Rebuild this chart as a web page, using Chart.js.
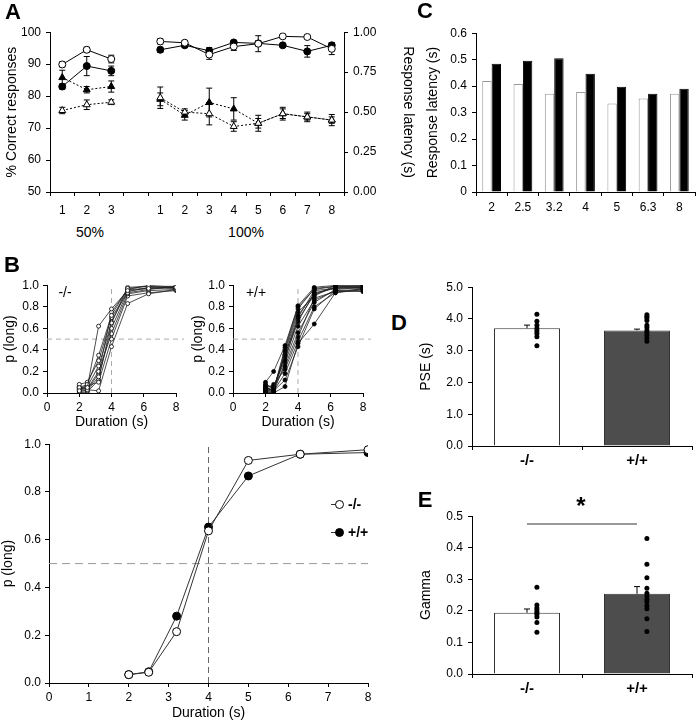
<!DOCTYPE html>
<html>
<head>
<meta charset="utf-8">
<script src="https://cdn.jsdelivr.net/npm/chart.js@4.4.1/dist/chart.umd.min.js"></script>
<style>
  body { margin: 0; width: 696px; height: 720px; position: relative; overflow: hidden; background: #fff;
         font-family: 'Liberation Sans', Arial, sans-serif; color: #000; }
  canvas { position: absolute; }
</style>
</head>
<body>
<script>
// ---- Panel A: % correct (circles, left axis) and response latency (triangles, right axis)
const aCats = ['1', '2', '3', '', '1', '2', '3', '4', '5', '6', '7', '8'];
const aCorrectKO = [89.9, 94.5, 91.6, null, 97.1, 96.7, 93.0, 95.5, 96.4, 98.7, 98.5, 94.8];
const aCorrectKOErr = [0.8, 0.8, 1.2, null, 0.8, 0.6, 1.5, 1.2, 2.5, 0.5, 0.5, 1.8];
const aCorrectWT = [83.0, 89.4, 87.9, null, 94.5, 95.9, 94.2, 96.8, 96.5, 95.9, 94.0, 95.9];
const aCorrectWTErr = [0.8, 3.0, 1.5, null, 0.8, 0.6, 1.0, 0.6, 0.8, 0.6, 1.8, 0.8];
const aLatencyKO = [0.51, 0.546, 0.562, null, 0.59, 0.50, 0.49, 0.41, 0.43, 0.49, 0.47, 0.45];
const aLatencyKOErr = [0.02, 0.03, 0.015, null, 0.067, 0.02, 0.07, 0.03, 0.05, 0.04, 0.03, 0.035];
const aLatencyWT = [0.716, 0.64, 0.66, null, 0.58, 0.48, 0.56, 0.52, 0.43, 0.49, 0.47, 0.45];
const aLatencyWTErr = [0.046, 0.02, 0.035, null, 0.04, 0.03, 0.09, 0.07, 0.03, 0.03, 0.02, 0.02];

// ---- Panel C: response latency per duration
const cDurations = ['2', '2.5', '3.2', '4', '5', '6.3', '8'];
const cLatencyKO = [0.419, 0.408, 0.371, 0.378, 0.334, 0.353, 0.371];
const cLatencyWT = [0.485, 0.496, 0.505, 0.447, 0.398, 0.371, 0.39];

// ---- Panel B: p(long) per duration
const bDurations = [2, 2.5, 3.2, 4, 5, 6.3, 8];
const bKOAnimals = [
  [0.02, 0.05, 0.62, 0.78, 0.95, 0.97, 0.98],
  [0.05, 0.08, 0.35, 0.72, 0.97, 0.99, 0.97],
  [0.01, 0.03, 0.02, 0.43, 0.83, 0.92, 0.96],
  [0.08, 0.10, 0.30, 0.70, 0.93, 0.96, 0.99],
  [0.03, 0.06, 0.25, 0.65, 0.96, 1.00, 0.98],
  [0.02, 0.02, 0.15, 0.60, 0.94, 0.98, 0.97],
  [0.06, 0.04, 0.20, 0.55, 0.92, 0.95, 0.96],
  [0.04, 0.07, 0.10, 0.50, 0.90, 0.93, 0.95],
  [0.00, 0.01, 0.12, 0.66, 0.98, 0.99, 0.99],
  [0.05, 0.03, 0.18, 0.75, 0.96, 0.97, 0.98]
];
const bWTAnimals = [
  [0.10, 0.20, 0.44, 0.81, 0.98, 1.00, 0.99],
  [0.05, 0.02, 0.40, 0.78, 0.97, 0.99, 1.00],
  [0.02, 0.00, 0.06, 0.46, 0.64, 0.93, 0.96],
  [0.08, 0.05, 0.35, 0.72, 0.92, 0.98, 0.97],
  [0.00, 0.02, 0.12, 0.43, 0.78, 0.95, 0.94],
  [0.03, 0.06, 0.30, 0.70, 0.95, 0.97, 0.99],
  [0.01, 0.04, 0.25, 0.56, 0.84, 0.96, 0.98],
  [0.06, 0.01, 0.38, 0.75, 0.90, 1.00, 0.97],
  [0.04, 0.08, 0.22, 0.52, 0.88, 0.94, 0.95],
  [0.02, 0.03, 0.42, 0.80, 0.96, 0.99, 0.99],
  [0.07, 0.05, 0.33, 0.66, 0.93, 0.97, 0.98],
  [0.00, 0.01, 0.28, 0.62, 0.86, 0.95, 0.96],
  [0.03, 0.04, 0.36, 0.68, 0.91, 0.98, 1.00],
  [0.05, 0.02, 0.18, 0.48, 0.80, 0.93, 0.97]
];
const bMeanKO = [0.035, 0.045, 0.215, 0.637, 0.932, 0.958, 0.977];
const bMeanWT = [0.035, 0.047, 0.28, 0.653, 0.867, 0.958, 0.965];

// ---- Panels D and E
const groups = ['-/-', '+/+'];
const pseMean = [3.706, 3.64];
const pseErr = [0.1, 0.04];
const pseKO = [4.15, 3.93, 3.8, 3.7, 3.62, 3.54, 3.44, 3.16];
const pseWT = [4.13, 4.08, 4.03, 3.95, 3.8, 3.73, 3.64, 3.57, 3.49, 3.39, 3.3];
const gammaMean = [0.194, 0.254];
const gammaErr = [0.012, 0.023];
const gammaKO = [0.2745, 0.219, 0.209, 0.2025, 0.196, 0.189, 0.181, 0.163, 0.1326];
const gammaWT = [0.429, 0.348, 0.305, 0.272, 0.256, 0.246, 0.236, 0.229, 0.216, 0.207, 0.175, 0.135];
const gammaSig = 0.475;

Chart.defaults.font.family = "'Liberation Sans', Arial, sans-serif";
Chart.defaults.color = '#000';

// error bars drawn from the dataset's own scale
const errorBars = {
  id: 'errorBars',
  beforeDatasetsDraw(chart) {
    const ctx = chart.ctx;
    chart.data.datasets.forEach((ds, i) => {
      if (!ds.errors) return;
      const meta = chart.getDatasetMeta(i);
      const ys = chart.scales[meta.yAxisID];
      meta.data.forEach((el, j) => {
        const v = ds.data[j], e = ds.errors[j];
        if (v == null || !e) return;
        const top = ys.getPixelForValue(v + e);
        const bot = ds.upOnly ? ys.getPixelForValue(v) : ys.getPixelForValue(v - e);
        ctx.save();
        ctx.strokeStyle = '#000';
        ctx.lineWidth = 1;
        ctx.beginPath();
        ctx.moveTo(el.x, top); ctx.lineTo(el.x, bot);
        ctx.moveTo(el.x - 3, top); ctx.lineTo(el.x + 3, top);
        if (!ds.upOnly) { ctx.moveTo(el.x - 3, bot); ctx.lineTo(el.x + 3, bot); }
        ctx.stroke();
        ctx.restore();
      });
    });
  }
};

function makeCanvas(x, y, w, h) {
  const c = document.createElement('canvas');
  c.width = w; c.height = h;
  c.style.left = x + 'px';
  c.style.top = y + 'px';
  document.body.appendChild(c);
  return c;
}

function text(t, x, y, size, weight) {
  const d = document.createElement('div');
  d.textContent = t;
  d.style.cssText = 'position:absolute;left:' + x + 'px;top:' + y + 'px;transform:translate(-50%,-50%);' +
    'font-size:' + size + 'px;font-weight:' + (weight || 'normal') + ';white-space:nowrap;line-height:1';
  document.body.appendChild(d);
}

function axis(o) {
  const a = {
    type: o.type || 'linear',
    position: o.pos,
    offset: !!o.offset,
    border: { color: '#000', width: 1 },
    grid: { drawOnChartArea: false, color: '#000', tickLength: 4, offset: !!o.offset },
    ticks: { color: '#000', font: { size: o.font || 12, weight: o.weight || 'normal' },
             padding: o.pad == null ? 3 : o.pad, maxRotation: 0, autoSkip: false },
    afterFit(s) { if (s.isHorizontal()) s.height = o.size; else s.width = o.size; }
  };
  if (o.min != null) a.min = o.min;
  if (o.max != null) a.max = o.max;
  if (o.step) a.ticks.stepSize = o.step;
  if (o.fmt != null) a.ticks.callback = v => Number(v).toFixed(o.fmt);
  if (o.title) a.title = { display: true, text: o.title, color: '#000', font: { size: 14 }, padding: { top: 4, bottom: 4 } };
  return a;
}

function options(pad, scales) {
  return {
    responsive: false, animation: false, devicePixelRatio: 1,
    layout: { padding: pad },
    plugins: { legend: { display: false }, tooltip: { enabled: false } },
    scales
  };
}

// ---------- Panel A
new Chart(makeCanvas(0, 20, 420, 202), {
  type: 'line',
  data: {
    labels: aCats,
    datasets: [
      { data: aCorrectKO, errors: aCorrectKOErr, yAxisID: 'y', borderColor: '#000', borderWidth: 1,
        pointRadius: 3.5, pointBackgroundColor: '#fff', pointBorderColor: '#000', pointBorderWidth: 1 },
      { data: aCorrectWT, errors: aCorrectWTErr, yAxisID: 'y', borderColor: '#000', borderWidth: 1,
        pointRadius: 3.5, pointBackgroundColor: '#000', pointBorderColor: '#000' },
      { data: aLatencyKO, errors: aLatencyKOErr, yAxisID: 'y2', borderColor: '#000', borderWidth: 1, borderDash: [2, 2],
        pointStyle: 'triangle', pointRadius: 4, pointBackgroundColor: '#fff', pointBorderColor: '#000', pointBorderWidth: 1 },
      { data: aLatencyWT, errors: aLatencyWTErr, yAxisID: 'y2', borderColor: '#000', borderWidth: 1, borderDash: [2, 2],
        pointStyle: 'triangle', pointRadius: 4, pointBackgroundColor: '#000', pointBorderColor: '#000' }
    ]
  },
  options: options({ left: 0, top: 10, right: 0, bottom: 0 }, {
    x: axis({ type: 'category', pos: 'bottom', offset: true, size: 30, pad: 7 }),
    y: axis({ pos: 'left', min: 50, max: 100, step: 10, size: 50, pad: 5, title: '% Correct responses' }),
    y2: axis({ pos: 'right', min: 0, max: 1, step: 0.25, fmt: 2, size: 76, pad: 5, title: 'Response latency (s)' })
  }),
  plugins: [errorBars]
});
text('50%', 90, 232, 14);
text('100%', 246, 232, 14);
text('A', 13, 12, 22, 'bold');

// ---------- Panel C
new Chart(makeCanvas(421, 21, 275, 196), {
  type: 'bar',
  data: {
    labels: cDurations,
    datasets: [
      { data: cLatencyKO, backgroundColor: '#fff', borderColor: '#999', borderWidth: 1,
        categoryPercentage: 0.6, barPercentage: 1 },
      { data: cLatencyWT, backgroundColor: '#000', borderColor: '#000', borderWidth: 1,
        categoryPercentage: 0.6, barPercentage: 1 }
    ]
  },
  options: options({ left: 0, top: 10, right: 1, bottom: 0 }, {
    x: axis({ type: 'category', pos: 'bottom', offset: true, size: 25, pad: 4 }),
    y: axis({ pos: 'left', min: 0, max: 0.6, step: 0.1, size: 55, pad: 5, title: 'Response latency (s)' })
  })
});
text('C', 425, 11, 22, 'bold');

// ---------- Panel B, individual animals
function refLines(col, xEnd) {
  return [
    { data: [{ x: 0, y: 0.5 }, { x: xEnd, y: 0.5 }], borderColor: col, borderWidth: 1, borderDash: [5, 4],
      pointRadius: 0, order: 10, clip: false },
    { data: [{ x: 4, y: 0 }, { x: 4, y: 1 }], borderColor: col, borderWidth: 1, borderDash: [5, 4],
      pointRadius: 0, order: 10 }
  ];
}

function animalsChart(x, yW, w, animals, filled) {
  const sets = animals.map(vals => ({
    data: vals.map((v, i) => ({ x: bDurations[i], y: v })),
    borderColor: '#222', borderWidth: 0.8,
    pointRadius: 2, pointBorderWidth: 0.8, pointBorderColor: '#000',
    pointBackgroundColor: filled ? '#000' : '#fff'
  }));
  new Chart(makeCanvas(x, 274, w, 161), {
    type: 'line',
    data: { datasets: sets.concat(refLines('#aaa', 9.5)) },
    options: options({ left: 0, top: 10, right: 8, bottom: 0 }, {
      x: axis({ pos: 'bottom', min: 0, max: 8, step: 2, size: 42, pad: 3, title: 'Duration (s)' }),
      y: axis({ pos: 'left', min: 0, max: 1, step: 0.2, fmt: 1, size: yW, pad: 4, title: 'p (long)' })
    })
  });
}
animalsChart(-2, 49, 186, bKOAnimals, false);
animalsChart(186, 47, 185, bWTAnimals, true);
text('-/-', 65, 292, 14);
text('+/+', 256, 292, 14);
text('B', 12, 265, 22, 'bold');

// ---------- Panel B, group means
new Chart(makeCanvas(-4, 433, 382, 293), {
  type: 'line',
  data: {
    datasets: [
      { data: bMeanKO.map((v, i) => ({ x: bDurations[i], y: v })), borderColor: '#333', borderWidth: 1,
        pointRadius: 4, pointBackgroundColor: '#fff', pointBorderColor: '#000', pointBorderWidth: 1 },
      { data: bMeanWT.map((v, i) => ({ x: bDurations[i], y: v })), borderColor: '#333', borderWidth: 1,
        pointRadius: 4, pointBackgroundColor: '#000', pointBorderColor: '#000' },
      { data: [{ x: 0, y: 0.5 }, { x: 8, y: 0.5 }], borderColor: '#999', borderWidth: 1, borderDash: [8, 5],
        pointRadius: 0, order: 10 },
      { data: [{ x: 4, y: 0 }, { x: 4, y: 1 }], borderColor: '#666', borderWidth: 1, borderDash: [6, 4],
        pointRadius: 0, order: 10 }
    ]
  },
  options: options({ left: 0, top: 10, right: 10, bottom: 0 }, {
    x: axis({ pos: 'bottom', min: 0, max: 8, step: 1, size: 43, pad: 3, title: 'Duration (s)' }),
    y: axis({ pos: 'left', min: 0, max: 1, step: 0.2, fmt: 1, size: 53, pad: 4, title: 'p (long)' })
  })
});

function legendItem(y, filled, label) {
  const ln = document.createElement('div');
  ln.style.cssText = 'position:absolute;left:331px;top:' + y + 'px;width:8px;border-top:1px solid #333';
  document.body.appendChild(ln);
  const dot = document.createElement('div');
  dot.style.cssText = 'position:absolute;left:' + (339 - 4.5) + 'px;top:' + (y - 4.5) + 'px;width:7px;height:7px;' +
    'border:1px solid #000;border-radius:50%;background:' + (filled ? '#000' : '#fff');
  document.body.appendChild(dot);
  const t = document.createElement('div');
  t.textContent = label;
  t.style.cssText = 'position:absolute;left:348px;top:' + (y - 8) + 'px;font-size:14px;font-weight:bold;line-height:16px';
  document.body.appendChild(t);
}
legendItem(504, false, '-/-');
legendItem(532, true, '+/+');

// ---------- Panels D and E
function groupChart(y, h, mean, err, ko, wt, yMax, yStep, title, sig) {
  const dotOffset = 0.09;
  const sets = [
    { type: 'bar', data: mean, errors: err, upOnly: true, xAxisID: 'x', yAxisID: 'y', grouped: false,
      backgroundColor: ['#fff', '#4d4d4d'], borderColor: '#333', borderWidth: 1,
      categoryPercentage: 1, barPercentage: 0.6, order: 5 },
    { type: 'scatter', data: ko.map(v => ({ x: dotOffset, y: v })), xAxisID: 'xd', yAxisID: 'y',
      pointRadius: 2.5, pointBackgroundColor: '#000', pointBorderWidth: 0, order: 1 },
    { type: 'scatter', data: wt.map(v => ({ x: 1 + dotOffset, y: v })), xAxisID: 'xd', yAxisID: 'y',
      pointRadius: 2.5, pointBackgroundColor: '#000', pointBorderWidth: 0, order: 1 }
  ];
  if (sig != null) {
    sets.push({ type: 'line', data: [{ x: 0, y: sig }, { x: 1, y: sig }], xAxisID: 'xd', yAxisID: 'y',
      borderColor: '#777', borderWidth: 1.5, pointRadius: 0, order: 1 });
  }
  new Chart(makeCanvas(414, y, 282, h), {
    type: 'bar',
    data: { labels: groups, datasets: sets },
    options: options({ left: 0, top: 10, right: 4, bottom: 0 }, {
      x: axis({ type: 'category', pos: 'bottom', offset: true, size: 25, pad: 2, font: 15, weight: 'bold' }),
      xd: { type: 'linear', min: -0.5, max: 1.5, offset: false, display: false },
      y: axis({ pos: 'left', min: 0, max: yMax, step: yStep, fmt: 1, size: 58, pad: 5, title: title })
    }),
    plugins: [errorBars]
  });
}
groupChart(275, 196, pseMean, pseErr, pseKO, pseWT, 5, 1, 'PSE (s)', null);
groupChart(504, 195, gammaMean, gammaErr, gammaKO, gammaWT, 0.5, 0.1, 'Gamma', gammaSig);
text('D', 399, 323, 22, 'bold');
text('E', 425, 500, 22, 'bold');
text('*', 581, 506, 24, 'bold');
</script>
</body>
</html>
